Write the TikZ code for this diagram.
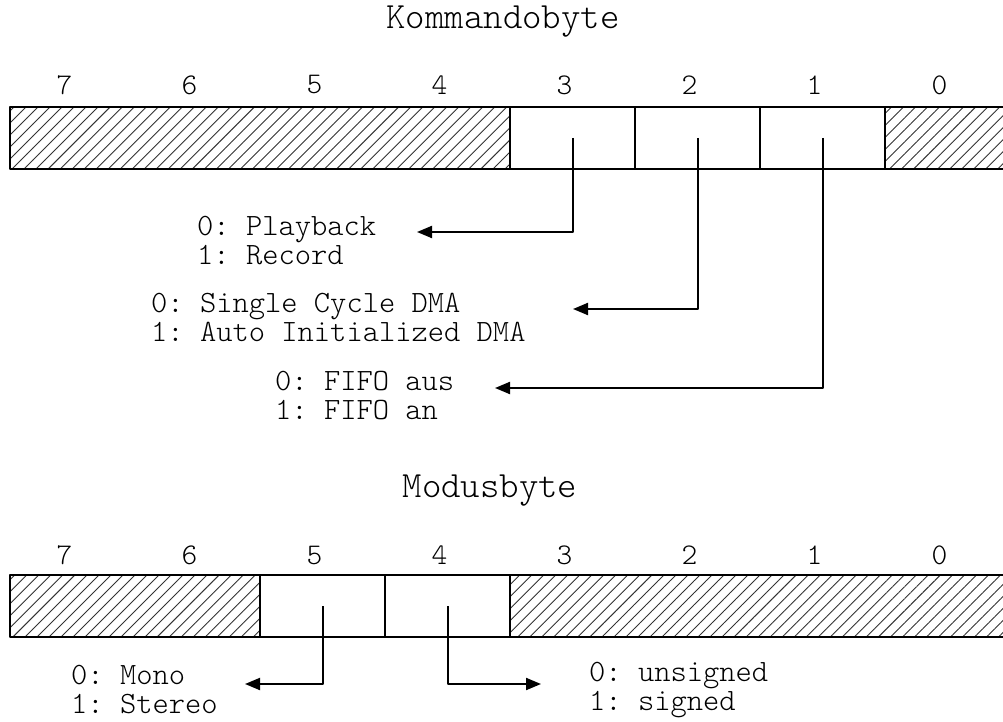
\documentclass[tikz,border=0pt]{standalone}
\usepackage{fontspec}
\setmonofont{Latin Modern Mono Light}
\usetikzlibrary{arrows.meta,patterns.meta}
\begin{document}
\begin{tikzpicture}[x=1pt,y=-1pt,line join=round,>={Triangle[length=15pt,width=12pt]},
	feld/.style={draw,line width=2pt,minimum height=62pt,inner sep=0pt,outer sep=0pt},
	frei/.style={feld,minimum width=125pt},
	reserviert/.style={feld,pattern={Lines[angle=45,distance=8.5pt,line width=.9pt]},pattern color=black!80},
	pfeil/.style={->,line width=2pt},
	bitnr/.style={inner sep=0pt,font=\ttfamily\fontsize{30}{29}\selectfont},
	titel/.style={inner sep=0pt,anchor=base,font=\ttfamily\fontsize{37}{40}\selectfont},
	wert/.style={align=left,anchor=west,inner sep=0pt,font=\ttfamily\fontsize{31}{29}\selectfont}]
	\clip (0,0) rectangle (1003,722);
	\def\ko{138} \def\mo{606}
	% Kommandobyte
	\node[titel] (kt) at (503,29) {Kommandobyte};
	\foreach \b in {0,...,7}
		\node[bitnr] (kn\b) at ({64.5+125*(7-\b)},85) {\b};
	\node[reserviert,minimum width=500pt] (k74) at (260,\ko) {};
	\foreach \b in {3,2,1}
		\node[frei] (k\b) at ({72.5+125*(7-\b)},\ko) {};
	\node[reserviert,minimum width=125pt] (k0) at (947.5,\ko) {};
	\node[wert] (w3) at (197,240.5) {0: Playback\\1: Record};
	\node[wert] (w2) at (151,317.5) {0: Single Cycle DMA\\1: Auto Initialized DMA};
	\node[wert] (w1) at (275,396) {0: FIFO aus\\1: FIFO an};
	\coordinate (e3) at (417,232);
	\coordinate (e2) at (573,309);
	\coordinate (e1) at (495,388);
	\foreach \b in {3,2,1}
		\draw[pfeil] (k\b.center) |- (e\b);
	% Modusbyte
	\node[titel] (mt) at (490,497) {Modusbyte};
	\foreach \b in {0,...,7}
		\node[bitnr] (mn\b) at ({64.5+125*(7-\b)},555) {\b};
	\node[reserviert,minimum width=250pt] (m76) at (135,\mo) {};
	\foreach \b in {5,4}
		\node[frei] (m\b) at ({72.5+125*(7-\b)},\mo) {};
	\node[reserviert,minimum width=500pt] (m30) at (760,\mo) {};
	\node[wert] (w5) at (71,690) {0: Mono\\1: Stereo};
	\node[wert] (w4) at (589,690) {0: unsigned\\1: signed};
	\coordinate (e5) at (245,684);
	\coordinate (e4) at (541,684);
	\foreach \b in {5,4}
		\draw[pfeil] (m\b.center) |- (e\b);
\end{tikzpicture}
\end{document}
